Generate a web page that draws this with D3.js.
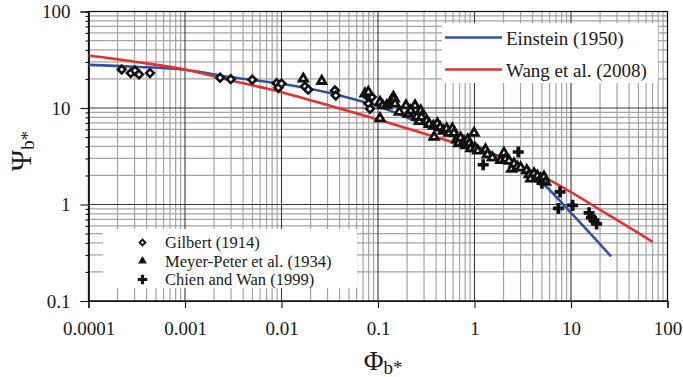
<!DOCTYPE html>
<html>
<head>
<meta charset="utf-8">
<script src="https://cdn.jsdelivr.net/npm/d3@7"></script>
<style>
  body { margin: 0; background: #fff; }
  svg { display: block; }
  svg text { font-family: "Liberation Serif", "Times New Roman", serif !important; fill: #1a1a1a; }
</style>
</head>
<body>
<svg id="chart" width="683" height="377"></svg>
<script>
// Axis ticks
const xTickValues = [1e-4, 1e-3, 0.01, 0.1, 1, 10, 100];
const xTickLabels = ["0.0001", "0.001", "0.01", "0.1", "1", "10", "100"];
const yTickValues = [0.1, 1, 10, 100];
const yTickLabels = ["0.1", "1", "10", "100"];

// Einstein (1950) bed-load curve
const einsteinPhi = [1e-4, 3e-4, 1e-3, 3e-3, 0.01, 0.04, 0.1, 0.35, 1.1, 5.2, 10.6, 26];
const einsteinPsi = [28, 26.8, 24.9, 20.8, 17.8, 13.5, 10.4, 6.3, 3.95, 1.62, 0.77, 0.29];

// Wang et al. (2008) curve
const wangPhi = [1e-4, 3e-4, 1e-3, 3e-3, 0.01, 0.04, 0.1, 0.35, 1.2, 4.4, 25, 70];
const wangPsi = [35, 30.2, 25, 19.3, 14.6, 9.9, 7.6, 5.2, 3.5, 2.1, 0.77, 0.41];

// Gilbert (1914) flume data
const gilbertPhi = [2.21e-4, 2.74e-4, 3.03e-4, 3.34e-4, 4.34e-4, 0.00231, 0.00298, 0.00498, 0.0089, 0.0093,
                    0.0100, 0.0175, 0.0189, 0.0358, 0.0365, 0.0764, 0.0861, 0.0797, 0.0829];
const gilbertPsi = [25.1, 23.0, 24.5, 22.3, 23.0, 20.6, 19.9, 19.6, 18.1, 16.2,
                    17.9, 16.7, 15.5, 15.2, 13.5, 13.5, 13.0, 11.1, 9.8];

// Meyer-Peter et al. (1934) data
const meyerPhi = [0.0168, 0.0261, 0.0734, 0.0795, 0.105, 0.105, 0.1115, 0.123, 0.136, 0.139, 0.144, 0.147, 0.150,
                  0.166, 0.195, 0.206, 0.218, 0.242, 0.252, 0.268, 0.277, 0.283, 0.320, 0.340, 0.375, 0.381,
                  0.412, 0.440, 0.476, 0.515, 0.544, 0.590, 0.614, 0.653, 0.685, 0.719, 0.778, 0.811, 0.850,
                  0.885, 0.914, 0.989, 1.02, 1.08, 1.30, 1.36, 1.53, 1.87, 2.02, 2.10, 2.28, 2.43, 2.57, 2.78,
                  3.01, 3.48, 3.70, 3.82, 4.14, 4.48, 4.85, 5.25, 5.46];
const meyerPsi = [20.1, 19.0, 14.1, 14.6, 11.5, 7.8, 10.6, 10.6, 11.2, 12.0, 13.0, 12.5, 11.1,
                  9.1, 10.6, 8.7, 9.4, 10.6, 8.1, 7.3, 9.4, 8.05, 7.4, 6.8, 6.5, 5.0,
                  6.9, 6.3, 5.8, 6.1, 5.5, 6.1, 5.5, 4.7, 4.3, 4.9, 4.5, 4.1, 4.7,
                  4.3, 3.8, 5.5, 3.8, 3.6, 3.7, 3.3, 3.06, 2.87, 3.42, 2.96, 2.83, 2.33, 2.65, 2.45,
                  2.41, 2.26, 2.05, 1.85, 2.09, 1.98, 1.85, 1.93, 1.71];

// Chien and Wan (1999) data
const chienPhi = [1.23, 2.84, 5.0, 7.7, 7.4, 10.4, 15.4, 16.3, 17.3, 18.4];
const chienPsi = [2.58, 3.50, 1.66, 1.35, 0.91, 0.98, 0.82, 0.73, 0.69, 0.63];

const curveColors = { einstein: "#3150a8", wang: "#e5302b" };
const serif = '"Liberation Serif", "Times New Roman", serif';

const svg = d3.select("#chart");
const plotL = 88.5, plotR = 667.5, plotT = 11.5, plotB = 301;

const x = d3.scaleLog().domain([1e-4, 100]).range([plotL, plotR]);
const y = d3.scaleLog().domain([0.1, 100]).range([plotB, plotT]);

const zip = (a, b) => a.map((v, i) => [v, b[i]]);
const isMajor = v => Math.abs(Math.log10(v) - Math.round(Math.log10(v))) < 1e-9;

// Grid: minor lines first, then decade lines
const grid = svg.append("g");
const xAll = x.ticks(), yAll = y.ticks();
grid.selectAll(".vmin").data(xAll.filter(v => !isMajor(v))).join("line")
  .attr("x1", d => x(d)).attr("x2", d => x(d)).attr("y1", plotT).attr("y2", plotB)
  .attr("stroke", "#a3a3a3").attr("stroke-width", 1.2);
grid.selectAll(".hmin").data(yAll.filter(v => !isMajor(v))).join("line")
  .attr("y1", d => y(d)).attr("y2", d => y(d)).attr("x1", plotL).attr("x2", plotR)
  .attr("stroke", "#a3a3a3").attr("stroke-width", 1.2);
grid.selectAll(".vmaj").data(xAll.filter(isMajor)).join("line")
  .attr("x1", d => x(d)).attr("x2", d => x(d)).attr("y1", plotT).attr("y2", plotB)
  .attr("stroke", "#3a3a3a").attr("stroke-width", 1.1);
grid.selectAll(".hmaj").data(yAll.filter(isMajor)).join("line")
  .attr("y1", d => y(d)).attr("y2", d => y(d)).attr("x1", plotL).attr("x2", plotR)
  .attr("stroke", "#3a3a3a").attr("stroke-width", 1.1);

// Plot frame
svg.append("rect").attr("x", plotL).attr("y", plotT).attr("width", plotR - plotL).attr("height", plotB - plotT)
  .attr("fill", "none").attr("stroke", "#111").attr("stroke-width", 1.2);

// Axes
const fmtX = d => xTickLabels[xTickValues.indexOf(d)];
const fmtY = d => yTickLabels[yTickValues.indexOf(d)];

const xAxis = svg.append("g").attr("transform", `translate(0,${plotB})`)
  .call(d3.axisBottom(x).tickValues(xTickValues).tickFormat(fmtX).tickSize(7).tickPadding(14));
const yMinor = svg.append("g").attr("transform", `translate(${plotL},0)`)
  .call(d3.axisLeft(y).tickValues(yAll.filter(v => !isMajor(v))).tickFormat("").tickSize(3));
const yAxis = svg.append("g").attr("transform", `translate(${plotL},0)`)
  .call(d3.axisLeft(y).tickValues(yTickValues).tickFormat(fmtY).tickSize(8).tickPadding(10));
[xAxis, yAxis, yMinor].forEach(g => {
  g.attr("font-family", serif).attr("font-size", 19);
  g.select(".domain").attr("stroke", "#111").attr("stroke-width", 1.2);
  g.selectAll(".tick line").attr("stroke", "#111").attr("stroke-width", 1.1);
  g.selectAll(".tick text").style("font-family", serif).style("font-size", "19px").attr("fill", "#1a1a1a");
});

// Curves
svg.append("clipPath").attr("id", "plotClip")
  .append("rect").attr("x", plotL).attr("y", plotT).attr("width", plotR - plotL).attr("height", plotB - plotT);
const line = d3.line().x(d => x(d[0])).y(d => y(d[1])).curve(d3.curveMonotoneX);
const curves = svg.append("g").attr("clip-path", "url(#plotClip)");
curves.append("path").datum(zip(einsteinPhi, einsteinPsi)).attr("d", line)
  .attr("fill", "none").attr("stroke", curveColors.einstein).attr("stroke-width", 2.6);
curves.append("path").datum(zip(wangPhi, wangPsi)).attr("d", line)
  .attr("fill", "none").attr("stroke", curveColors.wang).attr("stroke-width", 2.6);

// Data markers
const diamond = d3.symbol(d3.symbolSquare, 30);
const triangle = d3.symbol(d3.symbolTriangle, 30);
const cross = d3.symbol(d3.symbolCross, 68);
const pts = svg.append("g");
pts.selectAll(".gil").data(zip(gilbertPhi, gilbertPsi)).join("path")
  .attr("d", diamond).attr("transform", d => `translate(${x(d[0])},${y(d[1])}) rotate(45)`)
  .attr("fill", "#fff").attr("stroke", "#111").attr("stroke-width", 2.6);
pts.selectAll(".mpm").data(zip(meyerPhi, meyerPsi)).join("path")
  .attr("d", triangle).attr("transform", d => `translate(${x(d[0])},${y(d[1])})`)
  .attr("fill", "#fff").attr("stroke", "#111").attr("stroke-width", 2.8).attr("stroke-linejoin", "miter");
pts.selectAll(".cw").data(zip(chienPhi, chienPsi)).join("path")
  .attr("d", cross).attr("transform", d => `translate(${x(d[0])},${y(d[1])})`)
  .attr("fill", "#111");

// Legend: curves
const lg1 = svg.append("g");
lg1.append("rect").attr("x", 442).attr("y", 23).attr("width", 216).attr("height", 60).attr("fill", "#fff");
const curveLegend = [
  { label: "Einstein (1950)", color: curveColors.einstein, y: 37.5 },
  { label: "Wang et al. (2008)", color: curveColors.wang, y: 69.5 }
];
curveLegend.forEach(d => {
  lg1.append("line").attr("x1", 445).attr("x2", 502).attr("y1", d.y).attr("y2", d.y)
    .attr("stroke", d.color).attr("stroke-width", 2.6);
  lg1.append("text").attr("x", 506).attr("y", d.y + 7.5).attr("font-size", 19).text(d.label);
});

// Legend: data sets
const lg2 = svg.append("g");
lg2.append("rect").attr("x", 103).attr("y", 229).attr("width", 254).attr("height", 59).attr("fill", "#fff");
const dataLegend = [
  { label: "Gilbert (1914)", y: 242.5, kind: "diamond" },
  { label: "Meyer-Peter et al. (1934)", y: 261, kind: "triangle" },
  { label: "Chien and Wan (1999)", y: 279.5, kind: "cross" }
];
dataLegend.forEach(d => {
  const g = lg2.append("g").attr("transform", `translate(142.5,${d.y})`);
  if (d.kind === "diamond") {
    g.append("path").attr("d", d3.symbol(d3.symbolSquare, 16)).attr("transform", "rotate(45)")
      .attr("fill", "#fff").attr("stroke", "#111").attr("stroke-width", 2);
  } else if (d.kind === "triangle") {
    g.append("path").attr("d", d3.symbol(d3.symbolTriangle, 34)).attr("fill", "#111");
  } else {
    g.append("path").attr("d", d3.symbol(d3.symbolCross, 50)).attr("fill", "#111");
  }
  lg2.append("text").attr("x", 165).attr("y", d.y + 5.5).attr("font-size", 16.5).text(d.label);
});

// Axis titles
const xt = svg.append("text").attr("x", 383).attr("y", 370).attr("text-anchor", "middle");
xt.append("tspan").attr("font-size", 27).text("Φ");
xt.append("tspan").attr("font-size", 19).attr("dy", 4).text("b*");

const yt = svg.append("text").attr("transform", "translate(31,151) rotate(-90)").attr("text-anchor", "middle");
yt.append("tspan").attr("font-size", 29).text("Ψ");
yt.append("tspan").attr("font-size", 19).attr("dy", 3).text("b*");
</script>
</body>
</html>
